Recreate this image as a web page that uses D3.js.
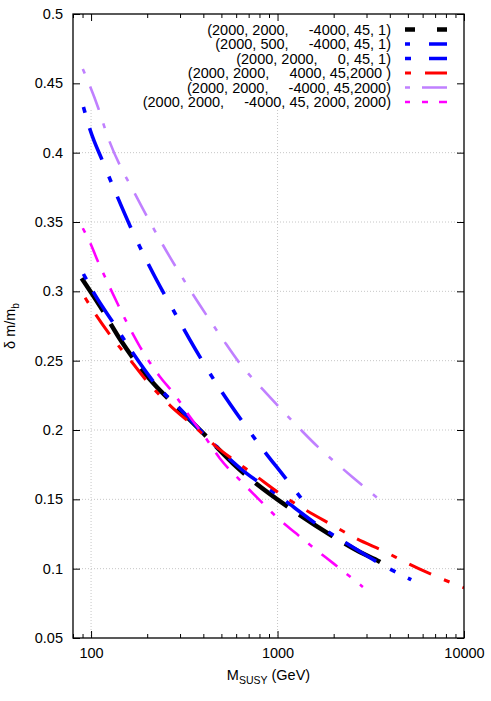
<!DOCTYPE html>
<html>
<head>
<meta charset="utf-8">
<script src="https://cdn.jsdelivr.net/npm/d3@7"></script>
<style>
  body { margin: 0; background: #fff; }
  svg text { font-family: "Liberation Sans", Arial, sans-serif; }
</style>
</head>
<body>
<div id="chart"></div>
<script>
// values: M_SUSY (GeV) and delta m / m_b
const blackM = [89, 112, 146, 220, 270, 384, 603, 1210, 2070, 2760, 3530, 4000];
const blackD = [0.3094, 0.289, 0.2636, 0.2324, 0.2203, 0.2, 0.1734, 0.142, 0.1217, 0.112, 0.105, 0.1005];

const blue500M = [91, 98.8, 116, 137, 162, 225, 276, 339, 424, 641, 820, 1072, 1397];
const blue500D = [0.433, 0.4165, 0.393, 0.3696, 0.347, 0.308, 0.2865, 0.265, 0.243, 0.207, 0.1874, 0.1674, 0.1477];

const blue0M = [91, 105, 132, 168, 220, 293, 470, 682, 948, 1751, 2440, 3670, 5210];
const blue0D = [0.3125, 0.2974, 0.277, 0.2553, 0.2336, 0.2167, 0.188, 0.1687, 0.1554, 0.129, 0.1169, 0.1025, 0.092];

const redM = [92.9, 105, 129, 165, 203, 270, 360, 481, 578, 756, 1028, 1373, 1943, 2649, 3850, 4700, 6430, 10000];
const redD = [0.2954, 0.284, 0.267, 0.2492, 0.234, 0.2167, 0.2023, 0.1867, 0.1787, 0.1674, 0.1542, 0.1434, 0.1318, 0.1217, 0.1116, 0.1056, 0.0969, 0.0862];

const lavM = [90.3, 109.4, 121, 178, 207, 512, 628, 872, 1314, 1647, 2068, 2643, 3459];
const lavD = [0.4603, 0.432, 0.414, 0.3665, 0.350, 0.2649, 0.248, 0.2264, 0.201, 0.1878, 0.176, 0.1638, 0.1506];

const magM = [90.3, 101, 107, 121, 140, 158, 183, 234, 282, 339, 408, 491, 655, 802, 1007, 1261, 1620, 1985, 2870];
const magD = [0.3455, 0.3322, 0.3239, 0.308, 0.290, 0.2757, 0.260, 0.2384, 0.2252, 0.2095, 0.195, 0.1795, 0.1614, 0.1494, 0.1362, 0.1253, 0.1133, 0.104, 0.0868];

const labels = [
  '(2000, 2000,     -4000, 45, 1)',
  '(2000, 500,     -4000, 45, 1)',
  '(2000, 2000,     0, 45, 1)',
  '(2000, 2000,     4000, 45,2000 )',
  '(2000, 2000,     -4000, 45,2000)',
  '(2000, 2000,     -4000, 45, 2000, 2000)'
];

const yTicks = [0.05, 0.1, 0.15, 0.2, 0.25, 0.3, 0.35, 0.4, 0.45, 0.5];
const xTicks = [100, 1000, 10000];

// styles (plot dashes / legend dashes differ like in the original)
const styles = [
  { color: '#000000', width: 4.5, dash: '40,14', key: '10,22' },
  { color: '#0000ff', width: 3.6, dash: '6,16,34,18', key: '5,19,18,20' },
  { color: '#0000ff', width: 3.6, dash: '6,14,36,16', key: '6,18,18,20' },
  { color: '#ff0000', width: 3.0, dash: '6,14,24,14', key: '6,14,22,14' },
  { color: '#c080ff', width: 2.6, dash: '5,14,25,14', key: '5,12,25,12' },
  { color: '#ff00ff', width: 2.6, dash: '5,12,20,12', key: '5,12,6,11,8' }
];

const series = [
  [blackM, blackD], [blue500M, blue500D], [blue0M, blue0D],
  [redM, redD], [lavM, lavD], [magM, magD]
].map((s) => s[0].map((m, i) => ({ m: m, d: s[1][i] })));

const W = 491, H = 701;
const pl = 73, pr = 464, pt = 14, pb = 638;
const fs = 14.5;

const x = d3.scaleLog().domain([80, 10000]).range([pl, pr]);
const y = d3.scaleLinear().domain([0.05, 0.5]).range([pb, pt]);

const svg = d3.select('#chart').append('svg')
  .attr('width', W).attr('height', H);

// grid
const grid = svg.append('g');
grid.selectAll('.gy').data(yTicks.slice(1, -1)).enter().append('line')
  .attr('x1', pl).attr('x2', pr)
  .attr('y1', (d) => y(d)).attr('y2', (d) => y(d))
  .attr('stroke', '#b8b8b8').attr('stroke-width', 0.8).attr('stroke-dasharray', '1,2');
grid.selectAll('.gx').data(xTicks.slice(0, -1)).enter().append('line')
  .attr('x1', (d) => x(d)).attr('x2', (d) => x(d))
  .attr('y1', pt).attr('y2', pb)
  .attr('stroke', '#b8b8b8').attr('stroke-width', 0.8).attr('stroke-dasharray', '1,2');

// opaque key area
svg.append('rect').attr('x', pl + 1).attr('y', pt + 1)
  .attr('width', pr - pl - 2).attr('height', 94).attr('fill', '#fff');

// axes with inward ticks
const minor = [];
[10, 100, 1000].forEach((dec) => { for (let k = 2; k <= 9; k++) minor.push(dec * k); });
const minorIn = minor.filter((v) => v >= 80 && v <= 10000 && xTicks.indexOf(v) < 0);

svg.append('g').attr('transform', `translate(0,${pb})`)
  .call(d3.axisBottom(x).tickValues(xTicks).tickFormat(d3.format('d')).tickSize(-7).tickPadding(10));
svg.append('g').attr('transform', `translate(0,${pt})`)
  .call(d3.axisTop(x).tickValues(xTicks).tickFormat('').tickSize(-7));
svg.append('g').attr('transform', `translate(${pl},0)`)
  .call(d3.axisLeft(y).tickValues(yTicks).tickFormat((d) => String(+d.toFixed(2))).tickSize(-7).tickPadding(10));
svg.append('g').attr('transform', `translate(${pr},0)`)
  .call(d3.axisRight(y).tickValues(yTicks).tickFormat('').tickSize(-7));
svg.append('g').attr('transform', `translate(0,${pb})`)
  .call(d3.axisBottom(x).tickValues(minorIn).tickFormat('').tickSize(-4));
svg.append('g').attr('transform', `translate(0,${pt})`)
  .call(d3.axisTop(x).tickValues(minorIn).tickFormat('').tickSize(-4));

svg.selectAll('.domain').remove();
svg.selectAll('.tick line').attr('stroke', '#000').attr('stroke-width', 1);
svg.selectAll('.tick text').attr('font-size', fs).attr('fill', '#000')
  .style('font-family', '"Liberation Sans", Arial, sans-serif');

// curves
svg.append('clipPath').attr('id', 'clip').append('rect')
  .attr('x', pl).attr('y', pt).attr('width', pr - pl).attr('height', pb - pt);

const line = d3.line().x((d) => x(d.m)).y((d) => y(d.d)).curve(d3.curveMonotoneX);

series.forEach((s, i) => {
  svg.append('path').datum(s)
    .attr('clip-path', 'url(#clip)')
    .attr('d', line)
    .attr('fill', 'none')
    .attr('stroke', styles[i].color)
    .attr('stroke-width', styles[i].width)
    .attr('stroke-dasharray', styles[i].dash);
});

// border
svg.append('rect').attr('x', pl).attr('y', pt)
  .attr('width', pr - pl).attr('height', pb - pt)
  .attr('fill', 'none').attr('stroke', '#000').attr('stroke-width', 1.3);

// legend
const key = svg.append('g');
labels.forEach((t, i) => {
  const ky = 29.5 + i * 14.5;
  key.append('text').attr('x', 391).attr('y', ky + 5)
    .attr('text-anchor', 'end').attr('font-size', fs)
    .style('white-space', 'pre').text(t);
  key.append('line').attr('x1', 405).attr('x2', 447)
    .attr('y1', ky).attr('y2', ky)
    .attr('stroke', styles[i].color).attr('stroke-width', styles[i].width)
    .attr('stroke-dasharray', styles[i].key);
});

// axis labels
const yl = svg.append('text')
  .attr('transform', `translate(15,${(pt + pb) / 2}) rotate(-90)`)
  .attr('text-anchor', 'middle').attr('font-size', fs);
yl.append('tspan').text('\u03b4 m/m');
yl.append('tspan').attr('font-size', 10).attr('dy', 4).text('b');

const xl = svg.append('text')
  .attr('x', (pl + pr) / 2).attr('y', 680)
  .attr('text-anchor', 'middle').attr('font-size', fs);
xl.append('tspan').text('M');
xl.append('tspan').attr('font-size', 10.5).attr('dy', 4).text('SUSY');
xl.append('tspan').attr('dy', -4).text(' (GeV)');
</script>
</body>
</html>
